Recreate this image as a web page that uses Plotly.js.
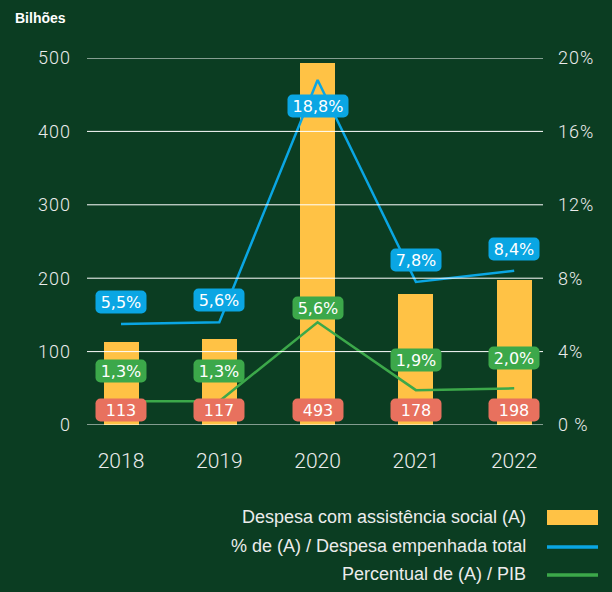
<!DOCTYPE html>
<html>
<head>
<meta charset="utf-8">
<script src="https://cdn.plot.ly/plotly-3.0.1.min.js"></script>
<style>
  html, body { margin: 0; padding: 0; background: #0b3d22; }
  #chart { width: 612px; height: 592px; }
</style>
</head>
<body>
<div id="chart"></div>
<script>
// ---- data ----
const years = ['2018', '2019', '2020', '2021', '2022'];
const despesa = [113, 117, 493, 178, 198];               // Bilhões
const pctDespesaTotal = [5.5, 5.6, 18.8, 7.8, 8.4];     // %
const pctPIB = [1.3, 1.3, 5.6, 1.9, 2.0];               // %
const despesaLabels = ['113', '117', '493', '178', '198'];
const pctDespesaLabels = ['5,5%', '5,6%', '18,8%', '7,8%', '8,4%'];
const pctPIBLabels = ['1,3%', '1,3%', '5,6%', '1,9%', '2,0%'];
const leftTicks = [0, 100, 200, 300, 400, 500];
const rightTicks = [0, 4, 8, 12, 16, 20];
const rightTickText = ['0 %', '4%', '8%', '12%', '16%', '20%'];
const seriesNames = [
  'Despesa com assistência social (A)',
  '% de (A) / Despesa empenhada total',
  'Percentual de (A) / PIB'
];
const unitLabel = 'Bilhões';

// ---- style ----
const BG = '#0b3d22';
const YELLOW = '#ffc245';
const BLUE = '#0aa6e3';
const GREEN = '#3ca84a';
const RED = '#e8715e';
const TXT = '#ececec';

// plot area in pixels
const L = 87, R = 543, T = 58, B = 425, W = 612, H = 592;
const pxX = x => (x - L) / (R - L);
const pxY = y => (B - y) / (B - T);

const traces = [
  {
    type: 'bar', x: years, y: despesa, name: seriesNames[0],
    marker: { color: YELLOW }, width: 0.356, hoverinfo: 'skip'
  },
  {
    type: 'scatter', mode: 'lines', x: years, y: pctDespesaTotal, name: seriesNames[1],
    yaxis: 'y2', line: { color: BLUE, width: 2.5 }, hoverinfo: 'skip'
  },
  {
    type: 'scatter', mode: 'lines', x: years, y: pctPIB, name: seriesNames[2],
    yaxis: 'y2', line: { color: GREEN, width: 2.5 }, hoverinfo: 'skip'
  }
];

const annotations = [];
const boxFont = { family: 'DejaVu Sans', size: 16, color: '#ffffff' };
function boxLabel(i, text, y, yref, color, yshift) {
  annotations.push({
    x: i, y: y, xref: 'x', yref: yref, text: text, showarrow: false,
    yshift: yshift, bgcolor: color, borderpad: 3, font: boxFont,
    width: text.length > 4 ? 54 : 44, height: 16, align: 'center'
  });
}
const maxBlue = Math.max(...pctDespesaTotal);
const maxGreen = Math.max(...pctPIB);
years.forEach((yr, i) => {
  boxLabel(i, pctDespesaLabels[i], pctDespesaTotal[i], 'y2', BLUE,
           pctDespesaTotal[i] === maxBlue ? -26 : 22);
  boxLabel(i, pctPIBLabels[i], pctPIB[i], 'y2', GREEN,
           pctPIB[i] === maxGreen ? 14 : 30);
  boxLabel(i, despesaLabels[i], 0, 'y', RED, 15);
});

// unit label
annotations.push({
  xref: 'paper', yref: 'paper', x: pxX(13), y: pxY(18), xanchor: 'left', yanchor: 'middle',
  text: '<b>' + unitLabel + '</b>', showarrow: false,
  font: { family: 'Liberation Sans', size: 14, color: '#ffffff' }
});

// custom legend (text right, swatch on the right side)
const legendY = [517, 546, 574];
seriesNames.forEach((name, k) => {
  annotations.push({
    xref: 'paper', yref: 'paper', x: pxX(528), y: pxY(legendY[k]),
    xanchor: 'right', yanchor: 'middle', text: name, showarrow: false,
    font: { family: 'Liberation Sans', size: 18, color: TXT }
  });
});

const shapes = [];
// gridlines above bars
leftTicks.forEach(v => {
  shapes.push({
    type: 'line', xref: 'paper', yref: 'y', x0: 0, x1: 1, y0: v, y1: v,
    line: { color: '#ffffff', width: 1 }, layer: 'above'
  });
});
// legend swatches
shapes.push({
  type: 'rect', xref: 'paper', yref: 'paper',
  x0: pxX(547), x1: pxX(598), y0: pxY(525), y1: pxY(510),
  fillcolor: YELLOW, line: { width: 0 }
});
shapes.push({
  type: 'line', xref: 'paper', yref: 'paper',
  x0: pxX(547), x1: pxX(598), y0: pxY(547), y1: pxY(547),
  line: { color: BLUE, width: 3.5 }
});
shapes.push({
  type: 'line', xref: 'paper', yref: 'paper',
  x0: pxX(547), x1: pxX(598), y0: pxY(575), y1: pxY(575),
  line: { color: GREEN, width: 3.5 }
});

const tickFont = { family: 'Roboto', size: 18, color: TXT, weight: 300 };

const layout = {
  width: W, height: H, autosize: false,
  paper_bgcolor: BG, plot_bgcolor: BG,
  margin: { l: L, r: W - R, t: T, b: H - B, pad: 0 },
  showlegend: false,
  xaxis: {
    type: 'category', range: [-0.346, 4.293], showgrid: false, zeroline: false,
    showline: false, ticks: '', ticklabelstandoff: 21,
    tickfont: { family: 'Roboto', size: 21, color: TXT, weight: 300 }
  },
  yaxis: {
    range: [0, 500], tickvals: leftTicks, showgrid: false, zeroline: false,
    showline: false, ticks: '', ticklabelstandoff: 15, tickfont: tickFont
  },
  yaxis2: {
    overlaying: 'y', side: 'right', range: [0, 20], tickvals: rightTicks,
    ticktext: rightTickText, showgrid: false, zeroline: false, showline: false,
    ticks: '', ticklabelstandoff: 14, tickfont: tickFont
  },
  bargap: 0,
  annotations: annotations,
  shapes: shapes
};

Plotly.newPlot('chart', traces, layout, { displayModeBar: false, staticPlot: true }).then(() => {
  // rounded corners on the value boxes
  document.querySelectorAll('.annotation rect.bg').forEach(r => {
    r.setAttribute('rx', 5);
    r.setAttribute('ry', 5);
  });
  // slightly spaced tick labels, like the reference
  document.querySelectorAll('.ytick text, .y2tick text').forEach(t => {
    t.style.letterSpacing = '1px';
  });
});
</script>
</body>
</html>
